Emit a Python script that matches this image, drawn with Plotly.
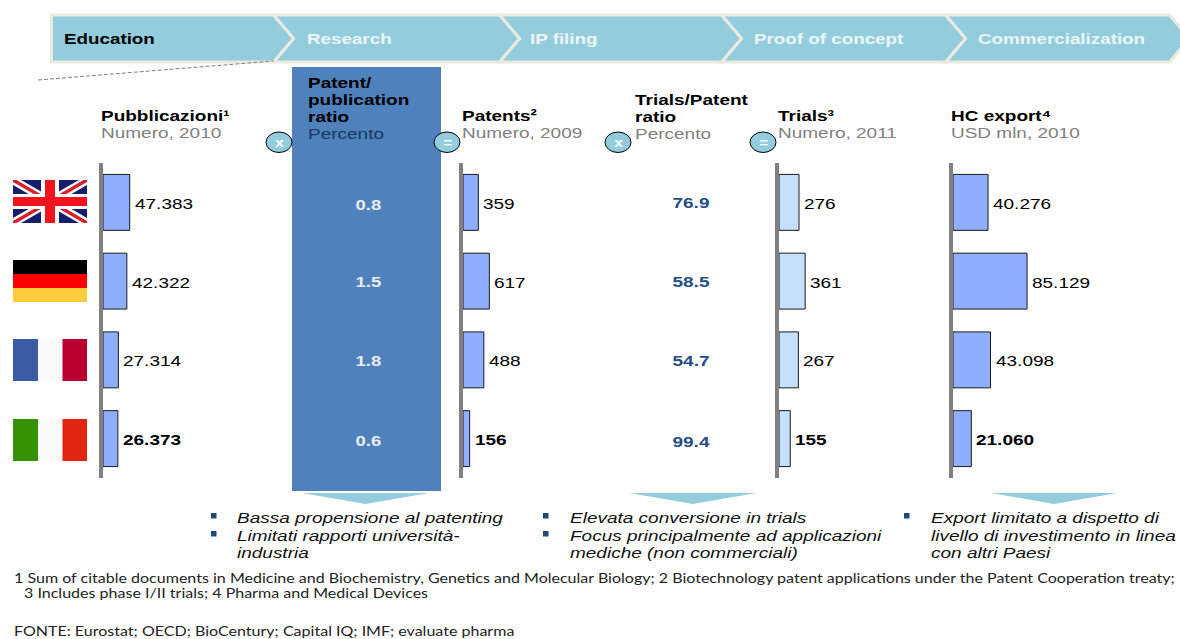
import plotly.graph_objects as go

# ---------- data ----------
countries = ["Regno Unito", "Germania", "Francia", "Italia"]
publications = [47383, 42322, 27314, 26373]
patents = [359, 617, 488, 156]
trials = [276, 361, 267, 155]
hc_export = [40276, 85129, 43098, 21060]
patent_pub_ratio = ["0.8", "1.5", "1.8", "0.6"]
trial_patent_ratio = ["76.9", "58.5", "54.7", "99.4"]
stages = ["Education", "Research", "IP filing", "Proof of concept", "Commercialization"]

W, H = 1180, 639
SANS = "Liberation Sans"
NOTE = "Lato"
BODY = 15.45


def px(x):
    return x / W


def py(y):
    return 1 - y / H


def poly(points, fill, line=None, lw=0):
    path = "M " + " L ".join(f"{px(x):.5f},{py(y):.5f}" for x, y in points) + " Z"
    return dict(type="path", xref="paper", yref="paper", path=path, fillcolor=fill, layer="below",
                line=dict(color=line or fill, width=lw))


def rect(x0, y0, x1, y1, fill):
    return dict(type="rect", xref="paper", yref="paper", x0=px(x0), x1=px(x1), y0=py(y0), y1=py(y1),
                fillcolor=fill, line=dict(width=0), layer="below")


def label(x, y, text, size=BODY, color="#000000", anchor="left", font=SANS):
    return dict(xref="paper", yref="paper", x=px(x), y=py(y), text=text, showarrow=False, xanchor=anchor,
                yanchor="middle", align="left", borderpad=0, borderwidth=0,
                font=dict(family=font, size=size, color=color))


shapes, notes = [], []

# ---------- chevron band ----------
BEIGE, TEAL = "#ECE9DF", "#93CDDD"
starts = [51.5, 273.5, 499.5, 721.5, 945.5]
ends = [273.5, 499.5, 721.5, 945.5, 1169.5]
top, bottom, mid = 15, 62, 38.5
text_x = [64, 307, 530, 754, 978]
for i, s in enumerate(stages):
    a, b = starts[i], ends[i]
    pts = [(a, top), (b, top), (b + 20, mid), (b, bottom), (a, bottom)]
    if i:
        pts.append((a + 20, mid))
    shapes.append(poly(pts, TEAL, BEIGE, 3))
    notes.append(label(text_x[i], 38.5, f"<b>{s}</b>", 15.3, "#000000" if i == 0 else "#EAF5F8"))
shapes = shapes[::-1]

shapes.append(dict(type="line", xref="paper", yref="paper", x0=px(38), y0=py(80), x1=px(273.5), y1=py(61),
                   line=dict(color="#808080", width=1, dash="4px,2px")))

# ---------- highlighted column ----------
shapes.append(rect(292, 67, 441, 491, "#4F81BD"))

# ---------- operator circles ----------
for cx, sym in [(279, "x"), (447, "="), (618, "x"), (763, "=")]:
    shapes.append(dict(type="circle", xref="paper", yref="paper", x0=px(cx - 13), x1=px(cx + 13),
                       y0=py(132), y1=py(152.5), fillcolor=TEAL, line=dict(color="#000000", width=1)))
    notes.append(label(cx, 143, f"<b>{sym}</b>", 12.5, "#FFFFFF", "center"))

# ---------- headers ----------
GRAY = "#808080"
notes += [
    label(101, 116, "<b>Pubblicazioni¹</b>"),
    label(101, 132.5, "Numero, 2010", BODY, GRAY),
    label(308, 82.5, "<b>Patent/</b>"),
    label(308, 99.5, "<b>publication</b>"),
    label(308, 116.5, "<b>ratio</b>"),
    label(308, 133, "Percento", BODY, "#17375E"),
    label(461.5, 116, "<b>Patents²</b>"),
    label(461.5, 132.5, "Numero, 2009", BODY, GRAY),
    label(635, 99.5, "<b>Trials/Patent</b>"),
    label(635, 116.5, "<b>ratio</b>"),
    label(635, 133, "Percento", BODY, GRAY),
    label(778, 116, "<b>Trials³</b>"),
    label(778, 132.5, "Numero, 2011", BODY, GRAY),
    label(951, 116, "<b>HC export⁴</b>"),
    label(951, 132.5, "USD mln, 2010", BODY, GRAY),
]

# ---------- ratio columns ----------
for v, y in zip(patent_pub_ratio, [205, 281.5, 360.5, 440.5]):
    notes.append(label(368, y, f"<b>{v}</b>", 15, "#E8ECEF", "center"))
for v, y in zip(trial_patent_ratio, [202, 282, 360.5, 441]):
    notes.append(label(691.5, y, f"<b>{v}</b>", BODY, "#254D86", "center"))

# ---------- flags ----------
x0, x1 = 13, 87
y0, y1 = 180, 223
shapes.append(rect(x0, y0, x1, y1, "#14206E"))
for d, e, c in [(8, 5, "#FFFFFF"), (3.5, 2, "#D8202A")]:
    shapes.append(poly([(x0, y0), (x0 + d, y0), (x1, y1 - e), (x1, y1), (x1 - d, y1), (x0, y0 + e)], c))
    shapes.append(poly([(x1, y0), (x1 - d, y0), (x0, y1 - e), (x0, y1), (x0 + d, y1), (x1, y0 + e)], c))
shapes.append(rect(x0, 194, x1, 209, "#FFFFFF"))
shapes.append(rect(41, y0, 59, y1, "#FFFFFF"))
shapes.append(rect(x0, 197, x1, 206, "#F0141E"))
shapes.append(rect(45, y0, 55, y1, "#F0141E"))
shapes += [rect(x0, 260, x1, 274, "#000000"), rect(x0, 274, x1, 288, "#FF0000"), rect(x0, 288, x1, 302, "#FFCC3C")]
shapes += [rect(x0, 339, 38, 381, "#3B5CA4"), rect(38, 339, 62.5, 381, "#FBFBFB"), rect(62.5, 339, x1, 381, "#B9002F")]
shapes += [rect(x0, 419, 38, 461, "#379200"), rect(38, 419, 62.5, 461, "#FBFBFB"), rect(62.5, 419, x1, 461, "#E02510")]

# ---------- conclusion arrows ----------
for a, b in [(302, 429), (629.5, 756), (991, 1117)]:
    shapes.append(poly([(a, 493), (b, 493), ((a + b) / 2, 504)], TEAL))

# ---------- bullets ----------
NAVY = "#1F497D"
for bx, ys in [(211, [513, 531]), (543, [513, 531]), (904, [513])]:
    for by in ys:
        shapes.append(rect(bx, by, bx + 5.5, by + 5.5, NAVY))
bullets = [
    (236.5, 517, "Bassa propensione al patenting"),
    (236.5, 535, "Limitati rapporti università-"),
    (236.5, 552, "industria"),
    (569.5, 517, "Elevata conversione in trials"),
    (569.5, 535, "Focus principalmente ad applicazioni"),
    (569.5, 552, "mediche (non commerciali)"),
    (930.5, 517, "Export limitato a dispetto di"),
    (930.5, 535, "livello di investimento in linea"),
    (930.5, 552, "con altri Paesi"),
]
for x, y, t in bullets:
    notes.append(label(x, y, f"<i>{t}</i>", BODY, "#111111"))

# ---------- footnotes ----------
FOOT = 13.6
notes += [
    label(14, 578, "1 Sum of citable documents in Medicine and Biochemistry, Genetics and Molecular Biology; "
                   "2 Biotechnology patent applications under the Patent Cooperation treaty;", FOOT, "#222222", font=NOTE),
    label(24, 593, "3 Includes phase I/II trials; 4 Pharma and Medical Devices", FOOT, "#222222", font=NOTE),
    label(14, 630.5, "FONTE: Eurostat; OECD; BioCentury; Capital IQ; IMF; evaluate pharma", FOOT, "#222222", font=NOTE),
]

# ---------- bar panels ----------
panels = [
    (publications, 103, 0.000563, "#90AEFF"),
    (patents, 463, 0.0427, "#90AEFF"),
    (trials, 779, 0.0725, "#C6DFFB"),
    (hc_export, 953, 0.00087, "#90AEFF"),
]
fig = go.Figure()
layout_axes = {}
PANEL_LEN = 130
for i, (vals, start, scale, color) in enumerate(panels, start=1):
    suf = "" if i == 1 else str(i)
    fig.add_trace(go.Bar(
        x=vals, y=countries, orientation="h", xaxis=f"x{suf}", yaxis=f"y{suf}",
        marker=dict(color=color, line=dict(color="#1A1A1A", width=1)),
        cliponaxis=False, showlegend=False, hoverinfo="skip",
    ))
    for k, (v, c) in enumerate(zip(vals, countries)):
        t = f"{v:,}".replace(",", ".")
        notes.append(dict(xref=f"x{suf}", yref=f"y{suf}", x=v, y=c, xshift=5, yshift=-1, showarrow=False,
                          xanchor="left", yanchor="middle", borderpad=0, borderwidth=0,
                          text=f"<b>{t}</b>" if k == len(vals) - 1 else t,
                          font=dict(family=SANS, size=BODY, color="#000000")))
    layout_axes[f"xaxis{suf}"] = dict(domain=[px(start), px(start + PANEL_LEN)], range=[0, PANEL_LEN / scale],
                                      visible=False, anchor=f"y{suf}", fixedrange=True)
    layout_axes[f"yaxis{suf}"] = dict(domain=[py(478), py(163)], range=[3.5, -0.5], type="category",
                                      categoryorder="array", categoryarray=countries, anchor=f"x{suf}",
                                      showline=True, linecolor="#808080", linewidth=4, ticks="",
                                      showticklabels=False, showgrid=False, zeroline=False, fixedrange=True)

fig.update_layout(
    width=W, height=H, margin=dict(l=0, r=0, t=0, b=0), autosize=False,
    paper_bgcolor="#FFFFFF", plot_bgcolor="rgba(0,0,0,0)", bargap=0.29,
    shapes=shapes, annotations=notes, hovermode=False, showlegend=False,
    font=dict(family=SANS), **layout_axes,
)

# The reference slide is stretched sideways, so the text is widened the same way around its anchor.
post = """
document.body.style.margin='0';
document.documentElement.style.overflow='hidden';
var gd=document.querySelector('.plotly-graph-div');
document.querySelectorAll('g.annotation').forEach(function(g){
  var a=gd.layout.annotations[+g.getAttribute('data-index')];
  var t=g.querySelector('text.annotation-text');
  if(!a||!t)return;
  var s=a.font.family==='Lato'?1.18:1.23;
  var b=t.getBBox();
  var c=a.xanchor==='center'?b.x+b.width/2:b.x;
  t.setAttribute('transform','translate('+c+',0) scale('+s+',1) translate('+(-c)+',0)');
});
"""
fig.write_html("out.html", config=dict(displayModeBar=False), post_script=post)
